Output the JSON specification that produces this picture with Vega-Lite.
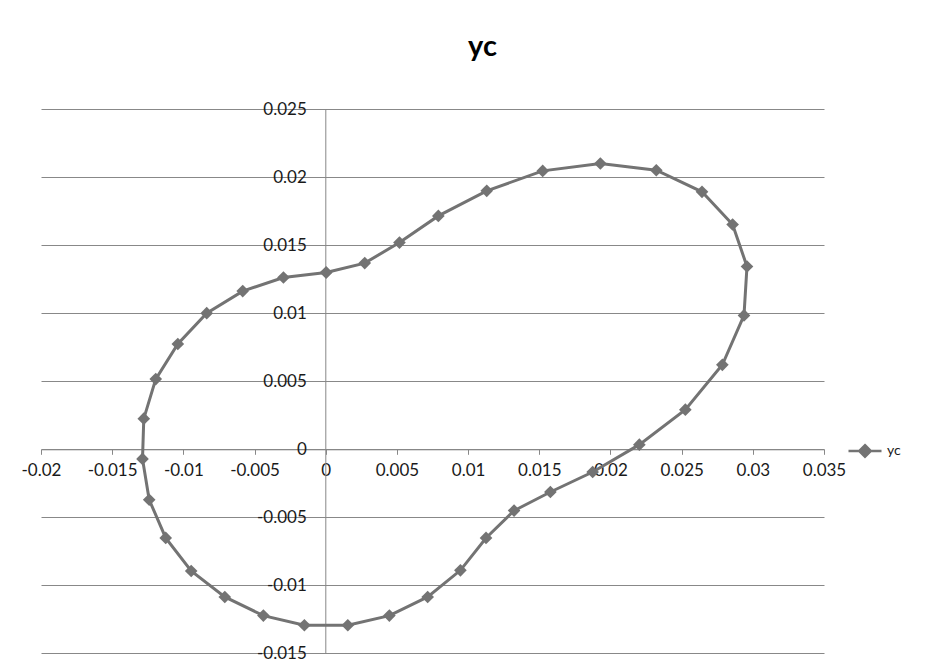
{
  "$schema": "https://vega.github.io/schema/vega-lite/v6.json",
  "width": 783,
  "height": 544,
  "autosize": {"type": "none"},
  "padding": {"left": 41, "top": 109, "right": 122, "bottom": 9},
  "background": "white",
  "config": {"view": {"stroke": null}, "font": "Lato"},
  "title": {"text": "yc", "fontSize": 29, "fontWeight": "bold", "font": "Lato", "color": "#000000", "anchor": "middle", "dx": 50, "offset": 38},
  "data": {"values": [
    {"i": 1, "x": 0.00003, "y": 0.01298},
    {"i": 2, "x": 0.00274, "y": 0.01367},
    {"i": 3, "x": 0.00518, "y": 0.01518},
    {"i": 4, "x": 0.00791, "y": 0.01714},
    {"i": 5, "x": 0.01131, "y": 0.01898},
    {"i": 6, "x": 0.01524, "y": 0.02045},
    {"i": 7, "x": 0.01929, "y": 0.02099},
    {"i": 8, "x": 0.02322, "y": 0.0205},
    {"i": 9, "x": 0.02643, "y": 0.01891},
    {"i": 10, "x": 0.02858, "y": 0.01651},
    {"i": 11, "x": 0.02959, "y": 0.01342},
    {"i": 12, "x": 0.02938, "y": 0.00982},
    {"i": 13, "x": 0.02786, "y": 0.00619},
    {"i": 14, "x": 0.02526, "y": 0.00289},
    {"i": 15, "x": 0.02203, "y": 0.00032},
    {"i": 16, "x": 0.01875, "y": -0.00169},
    {"i": 17, "x": 0.01578, "y": -0.00316},
    {"i": 18, "x": 0.01323, "y": -0.00453},
    {"i": 19, "x": 0.01126, "y": -0.00654},
    {"i": 20, "x": 0.00946, "y": -0.00892},
    {"i": 21, "x": 0.00716, "y": -0.01088},
    {"i": 22, "x": 0.00447, "y": -0.01225},
    {"i": 23, "x": 0.00155, "y": -0.01296},
    {"i": 24, "x": -0.0015, "y": -0.01296},
    {"i": 25, "x": -0.00438, "y": -0.01225},
    {"i": 26, "x": -0.00709, "y": -0.01088},
    {"i": 27, "x": -0.00945, "y": -0.00897},
    {"i": 28, "x": -0.01124, "y": -0.00654},
    {"i": 29, "x": -0.0124, "y": -0.00373},
    {"i": 30, "x": -0.01287, "y": -0.00073},
    {"i": 31, "x": -0.01278, "y": 0.00223},
    {"i": 32, "x": -0.01194, "y": 0.00514},
    {"i": 33, "x": -0.01039, "y": 0.00772},
    {"i": 34, "x": -0.00836, "y": 0.00999},
    {"i": 35, "x": -0.00583, "y": 0.01161},
    {"i": 36, "x": -0.00297, "y": 0.01261},
    {"i": 37, "x": 0.00003, "y": 0.01298}
  ]},
  "mark": {"type": "line", "strokeWidth": 3, "point": {"shape": "diamond", "size": 160, "filled": true, "opacity": 1}},
  "encoding": {
    "x": {
      "field": "x", "type": "quantitative",
      "scale": {"domain": [-0.02, 0.035], "nice": false, "zero": false},
      "axis": {
        "title": null, "orient": "bottom", "offset": -203.7,
        "values": [-0.02, -0.015, -0.01, -0.005, 0, 0.005, 0.01, 0.015, 0.02, 0.025, 0.03, 0.035],
        "format": "~g", "labelExpr": "replace(datum.label, '\u2212', '-')", "grid": false,
        "domainColor": "#888888", "tickColor": "#888888", "tickSize": 5, "domainWidth": 1,
        "labelPadding": 8, "labelFontSize": 17, "labelFont": "Lato", "labelColor": "#1a1a1a",
        "labelFlush": false, "labelOverlap": false
      }
    },
    "y": {
      "field": "y", "type": "quantitative",
      "scale": {"domain": [-0.015, 0.025], "nice": false, "zero": false},
      "axis": {
        "title": null, "orient": "left", "offset": -284.3,
        "values": [-0.015, -0.01, -0.005, 0, 0.005, 0.01, 0.015, 0.02, 0.025],
        "format": "~g", "labelExpr": "replace(datum.label, '\u2212', '-')", "grid": true, "gridColor": "#888888", "gridWidth": 1,
        "domainColor": "#888888", "tickColor": "#888888", "tickSize": 5,
        "labelPadding": 14, "labelFontSize": 17, "labelFont": "Lato", "labelColor": "#1a1a1a",
        "labelFlush": false, "labelOverlap": false
      }
    },
    "order": {"field": "i", "type": "quantitative"},
    "color": {
      "datum": "yc", "type": "nominal",
      "scale": {"range": ["#737373"]},
      "legend": {
        "title": null, "orient": "none", "legendX": 806, "legendY": 324,
        "symbolType": "M-1,0L1,0M0,-0.35L0.35,0L0,0.35L-0.35,0Z",
        "symbolSize": 1089, "symbolStrokeWidth": 2.5,
        "symbolFillColor": "#737373", "symbolStrokeColor": "#737373",
        "labelFontSize": 14, "labelFont": "Lato", "labelColor": "#1a1a1a", "labelOffset": 4,
        "padding": 0
      }
    }
  }
}
